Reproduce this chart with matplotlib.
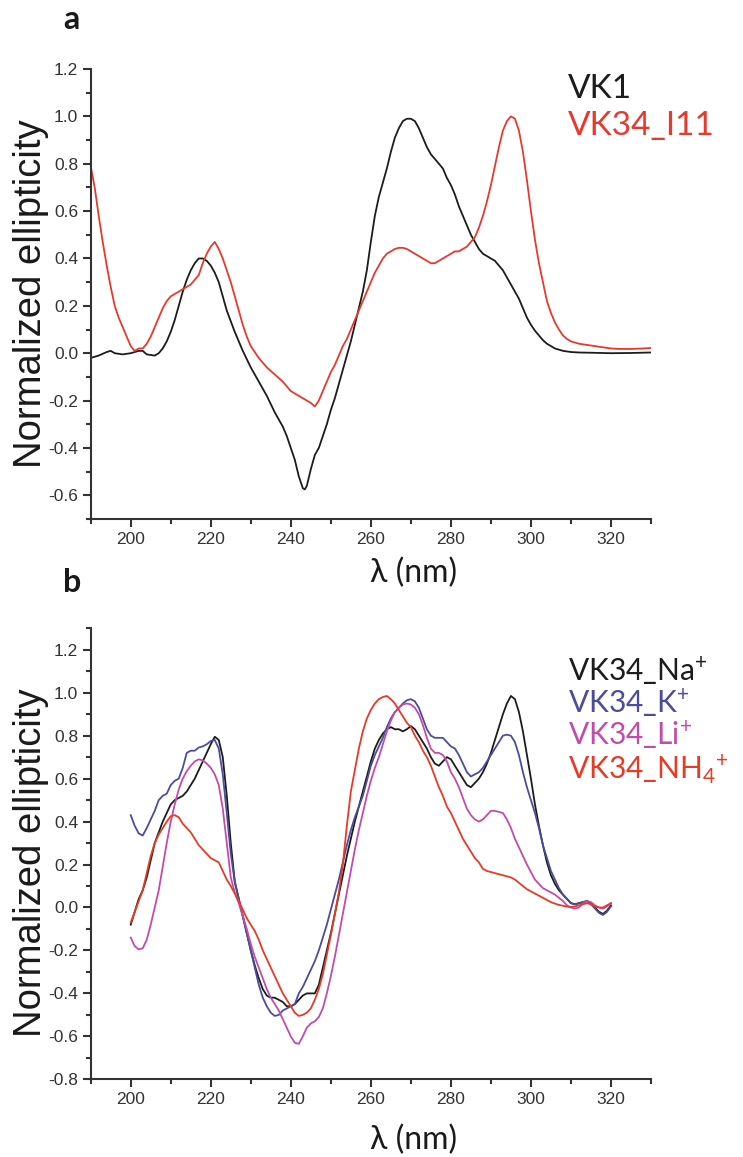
import numpy as np
import matplotlib
matplotlib.use('Agg')
import matplotlib.pyplot as plt

plt.rcParams['mathtext.fontset'] = 'custom'
plt.rcParams['mathtext.rm'] = 'Lato'
plt.rcParams['mathtext.it'] = 'Lato:italic'
plt.rcParams['mathtext.bf'] = 'Lato:bold'

# ---- panel a data ----
wl_vk1 = [190, 192, 194, 195, 196, 198, 200, 202, 203, 204, 206, 207, 208, 209, 210,
          211, 212, 213, 214, 215, 216, 217, 218, 219, 220, 221, 222, 223, 224, 226,
          228, 230, 232, 234, 236, 238, 239, 240, 241, 242, 243, 243.5, 244, 245, 246,
          247, 248, 249, 250, 251, 252, 253, 254, 255, 256, 257, 258, 259, 260, 261,
          262, 263, 264, 265, 266, 267, 268, 269, 270, 271, 272, 273, 274, 275, 276,
          277, 278, 279, 280, 281, 282, 283, 284, 285, 286, 287, 288, 289, 290, 291,
          292, 293, 294, 295, 296, 297, 298, 299, 300, 301, 302, 303, 304, 305, 306,
          307, 308, 310, 312, 315, 320, 325, 330]
vk1 = [-0.02, -0.01, 0.005, 0.01, 0.0, -0.005, 0.0, 0.01, 0.01, -0.005, -0.01, 0.0, 0.02, 0.05, 0.09,
       0.14, 0.20, 0.26, 0.31, 0.35, 0.38, 0.40, 0.40, 0.39, 0.37, 0.34, 0.30, 0.24, 0.18, 0.09,
       0.01, -0.06, -0.12, -0.18, -0.25, -0.31, -0.35, -0.40, -0.45, -0.52, -0.57, -0.575, -0.56, -0.49, -0.43,
       -0.40, -0.35, -0.30, -0.24, -0.19, -0.13, -0.07, -0.01, 0.05, 0.12, 0.19, 0.26, 0.35, 0.47, 0.58,
       0.66, 0.72, 0.78, 0.85, 0.91, 0.95, 0.98, 0.99, 0.99, 0.98, 0.95, 0.91, 0.87, 0.84, 0.82,
       0.80, 0.78, 0.74, 0.71, 0.67, 0.62, 0.58, 0.54, 0.50, 0.47, 0.44, 0.42, 0.41, 0.40, 0.39,
       0.37, 0.35, 0.32, 0.29, 0.26, 0.23, 0.19, 0.15, 0.12, 0.095, 0.075, 0.055, 0.04, 0.03, 0.02,
       0.015, 0.01, 0.005, 0.003, 0.002, 0.0, 0.001, 0.003]

wl_i11 = [190, 191, 192, 193, 194, 195, 196, 197, 198, 199, 200, 201, 202, 203, 204,
          205, 206, 207, 208, 209, 210, 211, 212, 213, 214, 215, 216, 217, 218, 219,
          220, 221, 222, 223, 224, 225, 226, 227, 228, 229, 230, 232, 234, 236, 238,
          240, 242, 244, 245, 246, 247, 248, 249, 250, 251, 252, 253, 254, 255, 256,
          257, 258, 259, 260, 261, 262, 263, 264, 265, 266, 267, 268, 269, 270, 271,
          272, 273, 274, 275, 276, 277, 278, 279, 280, 281, 282, 283, 284, 285, 286,
          287, 288, 289, 290, 291, 292, 293, 294, 295, 296, 297, 298, 299, 300, 301,
          302, 303, 304, 305, 306, 307, 308, 309, 310, 312, 314, 316, 318, 320, 322,
          325, 328, 330]
i11 = [0.79, 0.70, 0.58, 0.47, 0.37, 0.28, 0.20, 0.15, 0.11, 0.07, 0.03, 0.01, 0.02, 0.02, 0.04,
       0.07, 0.11, 0.15, 0.19, 0.22, 0.24, 0.25, 0.26, 0.27, 0.28, 0.29, 0.31, 0.33, 0.38, 0.42,
       0.45, 0.47, 0.44, 0.40, 0.35, 0.30, 0.24, 0.18, 0.12, 0.07, 0.03, -0.02, -0.06, -0.09, -0.12,
       -0.16, -0.18, -0.20, -0.21, -0.225, -0.20, -0.16, -0.12, -0.08, -0.05, -0.01, 0.03, 0.06, 0.10, 0.14,
       0.18, 0.22, 0.26, 0.30, 0.34, 0.37, 0.40, 0.42, 0.43, 0.44, 0.445, 0.445, 0.44, 0.43, 0.42,
       0.41, 0.40, 0.39, 0.38, 0.38, 0.39, 0.40, 0.41, 0.42, 0.43, 0.43, 0.44, 0.45, 0.47, 0.49,
       0.53, 0.58, 0.64, 0.71, 0.79, 0.87, 0.94, 0.98, 1.00, 0.99, 0.94, 0.85, 0.73, 0.60, 0.48,
       0.38, 0.30, 0.22, 0.17, 0.13, 0.10, 0.075, 0.06, 0.05, 0.04, 0.035, 0.03, 0.025, 0.02, 0.018,
       0.018, 0.02, 0.022]

# ---- panel b data (200-320 nm, 1 nm steps) ----
wl_b = list(range(200, 321))
na = [-0.08, -0.02, 0.04, 0.08, 0.14, 0.22, 0.30, 0.35, 0.40, 0.44,
      0.48, 0.50, 0.51, 0.52, 0.54, 0.57, 0.60, 0.64, 0.68, 0.72,
      0.76, 0.795, 0.78, 0.70, 0.52, 0.30, 0.12, 0.04, -0.04, -0.12,
      -0.20, -0.27, -0.33, -0.38, -0.41, -0.42, -0.42, -0.43, -0.44, -0.46,
      -0.46, -0.45, -0.43, -0.41, -0.40, -0.40, -0.40, -0.36, -0.28, -0.20,
      -0.12, -0.03, 0.06, 0.15, 0.24, 0.32, 0.40, 0.47, 0.54, 0.61,
      0.68, 0.74, 0.78, 0.81, 0.83, 0.84, 0.83, 0.83, 0.82, 0.83,
      0.845, 0.83, 0.80, 0.77, 0.74, 0.70, 0.67, 0.66, 0.68, 0.70,
      0.69, 0.66, 0.63, 0.60, 0.57, 0.56, 0.58, 0.60, 0.63, 0.67,
      0.72, 0.78, 0.84, 0.90, 0.95, 0.985, 0.97, 0.91, 0.82, 0.71,
      0.60, 0.48, 0.38, 0.29, 0.21, 0.15, 0.11, 0.08, 0.06, 0.04,
      0.02, 0.015, 0.02, 0.025, 0.03, 0.02, 0.0, -0.02, -0.03, -0.015,
      0.01]
k = [0.43, 0.38, 0.345, 0.335, 0.37, 0.41, 0.45, 0.50, 0.52, 0.53,
     0.57, 0.59, 0.60, 0.65, 0.72, 0.73, 0.73, 0.745, 0.75, 0.76,
     0.775, 0.78, 0.74, 0.62, 0.44, 0.25, 0.12, 0.04, -0.04, -0.12,
     -0.20, -0.28, -0.36, -0.42, -0.46, -0.49, -0.505, -0.50, -0.48, -0.47,
     -0.46, -0.45, -0.40, -0.37, -0.33, -0.29, -0.25, -0.20, -0.14, -0.08,
     -0.01, 0.06, 0.13, 0.21, 0.29, 0.36, 0.42, 0.47, 0.52, 0.59,
     0.66, 0.71, 0.75, 0.79, 0.84, 0.88, 0.91, 0.93, 0.95, 0.965,
     0.97, 0.96, 0.93, 0.88, 0.83, 0.80, 0.79, 0.79, 0.79, 0.77,
     0.75, 0.74, 0.71, 0.67, 0.63, 0.61, 0.62, 0.63, 0.65, 0.68,
     0.71, 0.74, 0.77, 0.80, 0.805, 0.80, 0.77, 0.71, 0.63, 0.56,
     0.50, 0.44, 0.37, 0.29, 0.23, 0.17, 0.13, 0.09, 0.06, 0.04,
     0.02, 0.015, 0.02, 0.025, 0.03, 0.015, -0.005, -0.025, -0.035, -0.02,
     0.005]
li = [-0.14, -0.18, -0.195, -0.19, -0.15, -0.08, 0.0, 0.08, 0.19, 0.30,
      0.40, 0.48, 0.55, 0.60, 0.635, 0.66, 0.68, 0.69, 0.685, 0.67,
      0.65, 0.62, 0.57, 0.46, 0.30, 0.14, 0.07, 0.02, -0.04, -0.10,
      -0.17, -0.23, -0.28, -0.33, -0.38, -0.42, -0.45, -0.48, -0.52, -0.56,
      -0.60, -0.63, -0.635, -0.60, -0.56, -0.54, -0.53, -0.51, -0.47, -0.40,
      -0.32, -0.23, -0.13, -0.03, 0.07, 0.17, 0.27, 0.36, 0.44, 0.52,
      0.59, 0.65, 0.70, 0.76, 0.82, 0.87, 0.91, 0.93, 0.945, 0.95,
      0.945, 0.93, 0.90, 0.85, 0.79, 0.74, 0.72, 0.72, 0.71, 0.68,
      0.63, 0.60, 0.56, 0.51, 0.46, 0.43, 0.41, 0.40, 0.41, 0.43,
      0.45, 0.45, 0.445, 0.44, 0.41, 0.37, 0.32, 0.28, 0.24, 0.20,
      0.165, 0.13, 0.11, 0.09, 0.08, 0.07, 0.06, 0.045, 0.03, 0.01,
      0.0, -0.005, 0.0, 0.02, 0.03, 0.025, 0.01, 0.0, -0.005, 0.005,
      0.02]
nh4 = [-0.07, -0.02, 0.03, 0.08, 0.16, 0.24, 0.30, 0.34, 0.37, 0.40,
       0.425, 0.43, 0.42, 0.39, 0.37, 0.35, 0.32, 0.29, 0.27, 0.25,
       0.23, 0.22, 0.21, 0.17, 0.13, 0.10, 0.065, 0.03, -0.01, -0.05,
       -0.08, -0.11, -0.15, -0.20, -0.24, -0.28, -0.32, -0.36, -0.40, -0.43,
       -0.46, -0.49, -0.505, -0.50, -0.49, -0.47, -0.43, -0.38, -0.31, -0.22,
       -0.13, -0.03, 0.07, 0.20, 0.38, 0.54, 0.64, 0.74, 0.82, 0.88,
       0.92, 0.95, 0.97, 0.98, 0.985, 0.97, 0.95, 0.92, 0.89, 0.86,
       0.84, 0.80, 0.77, 0.73, 0.70, 0.66, 0.61, 0.56, 0.52, 0.47,
       0.44, 0.40, 0.36, 0.32, 0.29, 0.26, 0.23, 0.21, 0.18, 0.17,
       0.165, 0.16, 0.155, 0.15, 0.145, 0.14, 0.13, 0.115, 0.10, 0.085,
       0.075, 0.065, 0.055, 0.045, 0.035, 0.025, 0.018, 0.012, 0.008, 0.004,
       0.002, 0.005, 0.01, 0.015, 0.02, 0.015, 0.005, 0.0, 0.0, 0.01,
       0.02]

names_a = ['VK1', 'VK34_I11']
colors_a = ['#1c1c1c', '#e8392e']
names_b = ['VK34_Na$^{+}$', 'VK34_K$^{+}$', 'VK34_Li$^{+}$', 'VK34_NH$_{4}$$^{+}$']
colors_b = ['#1c1c1c', '#4c4c9c', '#c24ca8', '#e83a26']

W, H = 743, 1157
fig = plt.figure(figsize=(W / 100, H / 100), dpi=100)


def fmt(v, pos):
    return f'{round(v, 1) + 0.0:.1f}'


def style_axes(ax, ylim, yticks):
    ax.set_xlim(190, 330)
    ax.set_ylim(*ylim)
    ax.spines['top'].set_visible(False)
    ax.spines['right'].set_visible(False)
    for s in ['left', 'bottom']:
        ax.spines[s].set_linewidth(1.5)
        ax.spines[s].set_color('#333333')
    ax.set_xticks([200, 220, 240, 260, 280, 300, 320])
    ax.set_xticks(np.arange(190, 331, 10), minor=True)
    ax.set_yticks(yticks)
    ax.set_yticks(np.round(np.arange(ylim[0], ylim[1] + 0.01, 0.1), 2), minor=True)
    ax.yaxis.set_major_formatter(matplotlib.ticker.FuncFormatter(fmt))
    ax.tick_params(which='major', length=6, width=1.5, color='#333333',
                   labelsize=12.5, labelcolor='#333333', pad=3)
    ax.tick_params(which='minor', length=3.5, width=1.5, color='#333333')
    for lab in ax.get_xticklabels() + ax.get_yticklabels():
        lab.set_fontfamily('Liberation Sans')
    ax.set_ylabel('Normalized ellipticity', fontsize=27.5, family='Liberation Sans',
                  color='#1a1a1a')
    ax.yaxis.set_label_coords(-0.075, 0.5)
    ax.set_xlabel('λ (nm)', fontsize=23, family='Lato', color='#1a1a1a')


# panel a
ax1 = fig.add_axes([90.7 / W, 1 - 519 / H, 560.3 / W, 450 / H])
ax1.plot(wl_vk1, vk1, color=colors_a[0], lw=1.3)
ax1.plot(wl_i11, i11, color=colors_a[1], lw=1.3)
style_axes(ax1, (-0.7, 1.2), [-0.6, -0.4, -0.2, 0.0, 0.2, 0.4, 0.6, 0.8, 1.0, 1.2])
ax1.xaxis.set_label_coords(0.576, -0.085)

# panel b
ax2 = fig.add_axes([90.7 / W, 1 - 1079.3 / H, 560.3 / W, 451 / H])
ax2.plot(wl_b, na, color=colors_b[0], lw=1.3)
ax2.plot(wl_b, k, color=colors_b[1], lw=1.3)
ax2.plot(wl_b, li, color=colors_b[2], lw=1.3)
ax2.plot(wl_b, nh4, color=colors_b[3], lw=1.3)
style_axes(ax2, (-0.8, 1.3), [-0.8, -0.6, -0.4, -0.2, 0.0, 0.2, 0.4, 0.6, 0.8, 1.0, 1.2])
ax2.yaxis.set_label_coords(-0.075, 0.48)
ax2.xaxis.set_label_coords(0.576, -0.1)

# legends as coloured text
for name, c, yb in zip(names_a, colors_a, [98, 135]):
    fig.text(568 / W, 1 - yb / H, name, color=c, fontsize=24, family='Lato',
             va='baseline', ha='left')
for name, c, yb in zip(names_b, colors_b, [681, 713, 745, 779]):
    fig.text(568 / W, 1 - yb / H, name, color=c, fontsize=21.5, family='Lato',
             va='baseline', ha='left')

# panel letters
fig.text(63 / W, 1 - 29 / H, 'a', fontsize=23, fontweight='bold', family='Lato',
         va='baseline', color='#1a1a1a')
fig.text(63 / W, 1 - 592 / H, 'b', fontsize=23, fontweight='bold', family='Lato',
         va='baseline', color='#1a1a1a')

fig.savefig('out.png', dpi=100)
